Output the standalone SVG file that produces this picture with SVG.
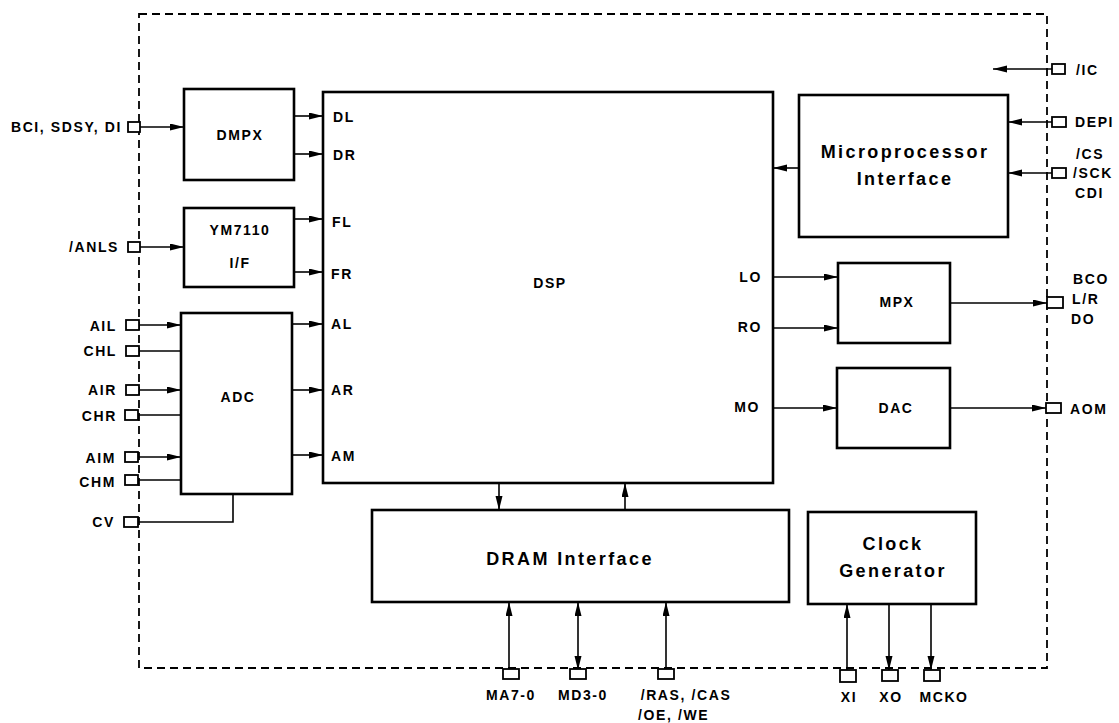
<svg xmlns="http://www.w3.org/2000/svg" width="1119" height="723" viewBox="0 0 1119 723">
<style>
.box{fill:#fff;stroke:#000;stroke-width:2.6}
.pin{fill:#fff;stroke:#000;stroke-width:1.8}
.ln{fill:none;stroke:#000;stroke-width:1.6}
.t{font-family:"Liberation Sans",Arial,sans-serif;font-weight:bold;font-size:14px;letter-spacing:1.6px;fill:#000}
.big{font-family:"Liberation Sans",Arial,sans-serif;font-weight:bold;font-size:18px;letter-spacing:2.4px;fill:#000}
.m{text-anchor:middle}
.e{text-anchor:end}
</style>
<defs>
<marker id="ah" markerUnits="userSpaceOnUse" markerWidth="15" markerHeight="8" refX="14" refY="3.5" orient="auto-start-reverse">
<path d="M0,0 L14,3.5 L0,7 z" fill="#000"/>
</marker>
</defs>
<rect x="139" y="14" width="908" height="654" fill="none" stroke="#000" stroke-width="1.8" stroke-dasharray="8 5"/>

<g id="connectors">
<line class="ln" x1="140" y1="127" x2="184" y2="127" marker-end="url(#ah)"/>
<line class="ln" x1="140" y1="247" x2="184" y2="247" marker-end="url(#ah)"/>
<line class="ln" x1="139" y1="325" x2="181" y2="325" marker-end="url(#ah)"/>
<line class="ln" x1="139" y1="351" x2="181" y2="351"/>
<line class="ln" x1="139" y1="390" x2="181" y2="390" marker-end="url(#ah)"/>
<line class="ln" x1="139" y1="415" x2="181" y2="415"/>
<line class="ln" x1="139" y1="457" x2="181" y2="457" marker-end="url(#ah)"/>
<line class="ln" x1="139" y1="480" x2="181" y2="480"/>
<path class="ln" d="M138,522 H233 V494"/>
<line class="ln" x1="294" y1="116" x2="323" y2="116" marker-end="url(#ah)"/>
<line class="ln" x1="294" y1="154" x2="323" y2="154" marker-end="url(#ah)"/>
<line class="ln" x1="294" y1="219" x2="323" y2="219" marker-end="url(#ah)"/>
<line class="ln" x1="294" y1="272" x2="323" y2="272" marker-end="url(#ah)"/>
<line class="ln" x1="292" y1="324" x2="323" y2="324" marker-end="url(#ah)"/>
<line class="ln" x1="292" y1="390" x2="323" y2="390" marker-end="url(#ah)"/>
<line class="ln" x1="292" y1="455" x2="323" y2="455" marker-end="url(#ah)"/>
<line class="ln" x1="799" y1="168" x2="773" y2="168" marker-end="url(#ah)"/>
<line class="ln" x1="1052" y1="69" x2="993" y2="69" marker-end="url(#ah)"/>
<line class="ln" x1="1052" y1="122" x2="1008" y2="122" marker-end="url(#ah)"/>
<line class="ln" x1="1052" y1="173" x2="1008" y2="173" marker-end="url(#ah)"/>
<line class="ln" x1="773" y1="277" x2="838" y2="277" marker-end="url(#ah)"/>
<line class="ln" x1="773" y1="328" x2="838" y2="328" marker-end="url(#ah)"/>
<line class="ln" x1="773" y1="408" x2="837" y2="408" marker-end="url(#ah)"/>
<line class="ln" x1="950" y1="303" x2="1047" y2="303" marker-end="url(#ah)"/>
<line class="ln" x1="950" y1="408" x2="1046" y2="408" marker-end="url(#ah)"/>
<line class="ln" x1="499" y1="483" x2="499" y2="510" marker-end="url(#ah)"/>
<line class="ln" x1="625" y1="510" x2="625" y2="483" marker-end="url(#ah)"/>
<line class="ln" x1="509" y1="670" x2="509" y2="602" marker-end="url(#ah)"/>
<line class="ln" x1="578" y1="670" x2="578" y2="602" marker-start="url(#ah)" marker-end="url(#ah)"/>
<line class="ln" x1="666" y1="670" x2="666" y2="602" marker-end="url(#ah)"/>
<line class="ln" x1="847" y1="670" x2="847" y2="604" marker-end="url(#ah)"/>
<line class="ln" x1="889" y1="604" x2="889" y2="670" marker-end="url(#ah)"/>
<line class="ln" x1="931" y1="604" x2="931" y2="670" marker-end="url(#ah)"/>
</g>

<g id="pins">
<rect class="pin" x="128" y="122" width="12" height="10"/>
<rect class="pin" x="128" y="242" width="12" height="10"/>
<rect class="pin" x="126" y="320" width="13" height="10"/>
<rect class="pin" x="126" y="346" width="13" height="10"/>
<rect class="pin" x="126" y="385" width="13" height="10"/>
<rect class="pin" x="125" y="410" width="13" height="10"/>
<rect class="pin" x="125" y="452" width="13" height="10"/>
<rect class="pin" x="125" y="475" width="13" height="10"/>
<rect class="pin" x="124" y="517" width="14" height="10"/>
<rect class="pin" x="1052" y="64" width="13" height="10"/>
<rect class="pin" x="1052" y="117" width="14" height="10"/>
<rect class="pin" x="1052" y="168" width="14" height="10"/>
<rect class="pin" x="1047" y="297" width="16" height="11"/>
<rect class="pin" x="1046" y="403" width="15" height="10"/>
<rect class="pin" x="503" y="669" width="16" height="10"/>
<rect class="pin" x="570" y="669" width="16" height="10"/>
<rect class="pin" x="658" y="669" width="16" height="10"/>
<rect class="pin" x="840" y="670" width="16" height="12"/>
<rect class="pin" x="882" y="670" width="16" height="11"/>
<rect class="pin" x="924" y="670" width="16" height="11"/>
<text class="t e" x="122" y="132">BCI, SDSY, DI</text>
<text class="t e" x="119" y="252">/ANLS</text>
<text class="t e" x="117" y="331">AIL</text>
<text class="t e" x="117" y="356">CHL</text>
<text class="t e" x="117" y="395">AIR</text>
<text class="t e" x="117" y="421">CHR</text>
<text class="t e" x="116" y="463">AIM</text>
<text class="t e" x="116" y="487">CHM</text>
<text class="t e" x="115" y="527">CV</text>
<text class="t" x="1076" y="75">/IC</text>
<text class="t" x="1075" y="127">DEPI</text>
<text class="t" x="1076" y="159">/CS</text>
<text class="t" x="1073" y="178">/SCK</text>
<text class="t" x="1075" y="198">CDI</text>
<text class="t" x="1073" y="284">BCO</text>
<text class="t" x="1072" y="304">L/R</text>
<text class="t" x="1071" y="324">DO</text>
<text class="t" x="1070" y="414">AOM</text>
<text class="t m" x="511" y="700">MA7-0</text>
<text class="t m" x="583" y="700">MD3-0</text>
<text class="t m" x="686" y="700">/RAS, /CAS</text>
<text class="t" x="638" y="720">/OE, /WE</text>
<text class="t m" x="849" y="702">XI</text>
<text class="t m" x="891" y="702">XO</text>
<text class="t m" x="944" y="702">MCKO</text>
</g>

<g id="dmpx">
<rect class="box" x="184" y="89" width="110" height="91"/>
<text class="t m" x="240" y="140">DMPX</text>
</g>
<g id="ym7110">
<rect class="box" x="184" y="208" width="110" height="79"/>
<text class="t m" x="240" y="235">YM7110</text>
<text class="t m" x="240" y="268">I/F</text>
</g>
<g id="adc">
<rect class="box" x="181" y="313" width="111" height="181"/>
<text class="t m" x="238" y="402">ADC</text>
</g>
<g id="dsp">
<rect class="box" x="323" y="92" width="450" height="391"/>
<text class="t m" x="550" y="288">DSP</text>
<text class="t" x="333" y="122">DL</text>
<text class="t" x="333" y="160">DR</text>
<text class="t" x="332" y="227">FL</text>
<text class="t" x="331" y="279">FR</text>
<text class="t" x="331" y="329">AL</text>
<text class="t" x="331" y="395">AR</text>
<text class="t" x="331" y="461">AM</text>
<text class="t e" x="762" y="282">LO</text>
<text class="t e" x="762" y="332">RO</text>
<text class="t e" x="760" y="412">MO</text>
</g>
<g id="mpi">
<rect class="box" x="799" y="95" width="209" height="142"/>
<text class="big m" x="905" y="158">Microprocessor</text>
<text class="big m" x="905" y="185">Interface</text>
</g>
<g id="mpx">
<rect class="box" x="838" y="263" width="112" height="80"/>
<text class="t m" x="897" y="307">MPX</text>
</g>
<g id="dac">
<rect class="box" x="837" y="368" width="113" height="80"/>
<text class="t m" x="896" y="413">DAC</text>
</g>
<g id="dram">
<rect class="box" x="372" y="510" width="417" height="92"/>
<text class="big m" x="570" y="565">DRAM Interface</text>
</g>
<g id="clock">
<rect class="box" x="808" y="512" width="168" height="92"/>
<text class="big m" x="893" y="550">Clock</text>
<text class="big m" x="893" y="577">Generator</text>
</g>
</svg>
